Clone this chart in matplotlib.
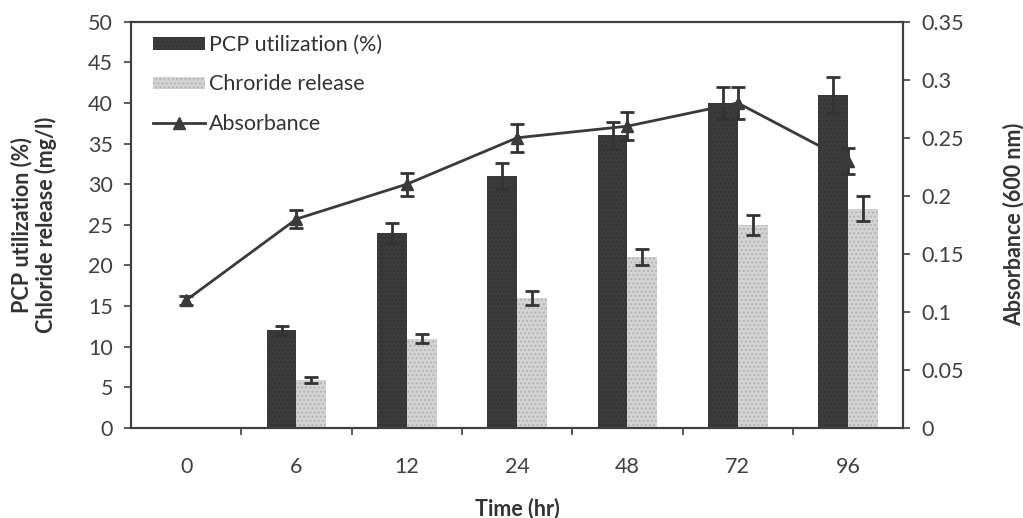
import matplotlib.pyplot as plt
from matplotlib.lines import Line2D
import numpy as np

# data
times = ['0', '6', '12', '24', '48', '72', '96']
pcp = [0, 12, 24, 31, 36, 40, 41]
pcp_err = [0, 0.6, 1.2, 1.6, 1.7, 2.0, 2.2]
chloride = [0, 5.9, 11, 16, 21, 25, 27]
chloride_err = [0, 0.4, 0.6, 0.9, 1.0, 1.2, 1.5]
absorb = [0.11, 0.18, 0.21, 0.25, 0.26, 0.28, 0.23]
absorb_err = [0.004, 0.008, 0.01, 0.012, 0.012, 0.014, 0.011]

plt.rcParams['font.family'] = ['Lato', 'DejaVu Sans']
fs = 15.5
fig = plt.figure(figsize=(10.23, 5.18), dpi=100)
ax = fig.add_axes([0.128, 0.174, 0.755, 0.784])

x = np.arange(len(times))
w = 0.27
b1 = ax.bar(x - w/2, pcp, w, color='#3b3b3b', edgecolor='#333333', lw=0,
            hatch='....', label='PCP utilization (%)', zorder=2)
b2 = ax.bar(x + w/2, chloride, w, color='#d4d4d4', edgecolor='#b5b5b5', lw=0,
            hatch='....', label='Chroride release', zorder=2)
mask = np.array(pcp) > 0
ax.errorbar(x[mask] - w/2, np.array(pcp)[mask], yerr=np.array(pcp_err)[mask],
            fmt='none', ecolor='#333333', elinewidth=2, capsize=5, capthick=2, zorder=3)
ax.errorbar(x[mask] + w/2, np.array(chloride)[mask], yerr=np.array(chloride_err)[mask],
            fmt='none', ecolor='#333333', elinewidth=2, capsize=5, capthick=2, zorder=3)

ax.set_xlim(-0.5, len(times) - 0.5)
ax.set_ylim(0, 50)
ax.set_yticks(np.arange(0, 51, 5))
ax.set_xticks(x)
ax.set_xticklabels(times)
ax.set_xticks(np.arange(0.5, len(times) - 1, 1), minor=True)
ax.tick_params(axis='x', which='major', length=0, pad=21, labelsize=fs, colors='#404040')
ax.tick_params(axis='x', which='minor', length=5, width=1.2, color='#404040')
ax.tick_params(axis='y', length=5, width=1.2, labelsize=fs, colors='#404040', pad=8)
ax.set_ylabel('PCP utilization (%)\nChloride release (mg/l)', fontsize=fs,
              fontweight='bold', color='#333333', labelpad=22, linespacing=1.15)
ax.set_xlabel('Time (hr)', fontsize=fs, fontweight='bold', color='#333333', labelpad=15)

ax2 = ax.twinx()
ax2.errorbar(x, absorb, yerr=absorb_err, color='#3a3a3a', lw=2, marker='^', ms=8,
             ecolor='#333333', elinewidth=2, capsize=5, capthick=2, zorder=4)
ax2.set_ylim(0, 0.35)
ax2.set_yticks(np.arange(0, 0.351, 0.05))
ax2.set_yticklabels(['0', '0.05', '0.1', '0.15', '0.2', '0.25', '0.3', '0.35'])
ax2.tick_params(axis='y', length=5, width=1.2, labelsize=fs, colors='#404040', pad=8)
ax2.set_ylabel('Absorbance (600 nm)', fontsize=fs, fontweight='bold',
               color='#333333', labelpad=28)

for a in (ax, ax2):
    for s in a.spines.values():
        s.set_color('#404040')
        s.set_linewidth(1.5)

line_h = Line2D([], [], color='#3a3a3a', lw=2, marker='^', ms=8)
ax2.legend([b1, b2, line_h], ['PCP utilization (%)', 'Chroride release', 'Absorbance'],
           loc='upper left', bbox_to_anchor=(0.004, 1.015),
           frameon=False, fontsize=fs, handlelength=2.4, handleheight=0.5,
           handletextpad=0.2, labelspacing=0.9, labelcolor='#333333')

fig.savefig('out.png', dpi=100)
